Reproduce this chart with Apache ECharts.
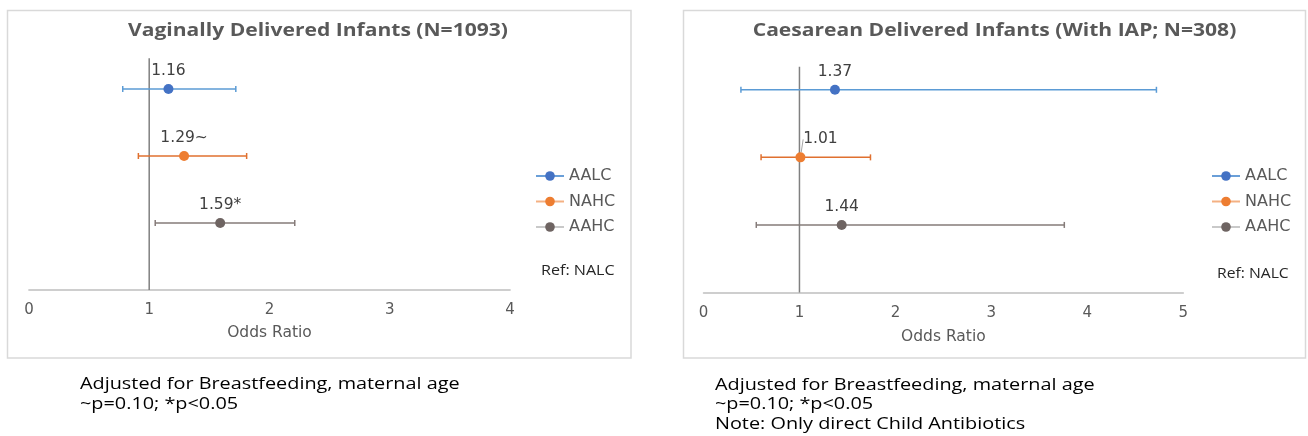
<!DOCTYPE html>
<html>
<head>
<meta charset="utf-8">
<script src="https://cdn.jsdelivr.net/npm/echarts@6/dist/echarts.min.js"></script>
<style>
  html, body { margin: 0; padding: 0; background: #fff; }
  #chart { width: 1308px; height: 436px; }
</style>
</head>
<body>
<div id="chart"></div>
<script>
// groups (top to bottom) and their row position on the hidden y axis
const groups = ["AALC", "NAHC", "AAHC"];
const rowY = [3, 2, 1];

// vaginally delivered infants
const leftOR = [1.16, 1.29, 1.59];
const leftLow = [0.78, 0.91, 1.05];
const leftHigh = [1.72, 1.81, 2.21];
const leftSig = ["", "~", "*"];
const leftTicks = [0, 1, 2, 3, 4];
const leftRefTop = 3.46;

// caesarean delivered infants
const rightOR = [1.37, 1.01, 1.44];
const rightLow = [0.39, 0.60, 0.55];
const rightHigh = [4.72, 1.74, 3.76];
const rightSig = ["", "", ""];
const rightTicks = [0, 1, 2, 3, 4, 5];
const rightRefTop = 3.34;

const markerColors = ["#4472C4", "#ED7D31", "#6E6462"];
const barColors = ["#5B9BD5", "#E0702F", "#857B79"];
const legendLineColors = ["#6A9FD8", "#F4B183", "#C9C9C9"];

const font = "'Open Sans', sans-serif";
const wide = "'DejaVu Sans', sans-serif";
const gray = "#595959";

var myChart = echarts.init(document.getElementById("chart"));

function xAxisFor(gridIndex, ticks, nameGap) {
  return {
    gridIndex: gridIndex,
    type: "value",
    min: ticks[0],
    max: ticks[ticks.length - 1],
    interval: 1,
    name: "Odds Ratio",
    nameLocation: "middle",
    nameGap: nameGap,
    nameTextStyle: { color: gray, fontSize: 15.5, fontFamily: wide },
    axisLine: { show: true, lineStyle: { color: "#BFBFBF", width: 1.5 } },
    axisTick: { show: false },
    splitLine: { show: false },
    axisLabel: { color: gray, fontSize: 15, fontFamily: wide, margin: 13 }
  };
}

function yAxisFor(gridIndex) {
  return { gridIndex: gridIndex, type: "value", min: 0, max: 3.5, show: false };
}

function panelSeries(axisIndex, or, low, high, sig, refTop, shiftIdx) {
  var list = [];
  // reference line at OR = 1
  list.push({
    type: "line",
    xAxisIndex: axisIndex,
    yAxisIndex: axisIndex,
    data: [[1, 0], [1, refTop]],
    symbol: "none",
    silent: true,
    lineStyle: { color: "#808080", width: 1.5 },
    z: 1
  });
  groups.forEach(function (g, i) {
    // error bars
    list.push({
      type: "custom",
      xAxisIndex: axisIndex,
      yAxisIndex: axisIndex,
      silent: true,
      z: 2,
      data: [[low[i], high[i], rowY[i]]],
      encode: { x: [0, 1], y: 2 },
      renderItem: function (params, api) {
        var a = api.coord([api.value(0), api.value(2)]);
        var b = api.coord([api.value(1), api.value(2)]);
        var s = { stroke: barColors[i], lineWidth: 1.5 };
        return {
          type: "group",
          children: [
            { type: "line", shape: { x1: a[0], y1: a[1], x2: b[0], y2: b[1] }, style: s },
            { type: "line", shape: { x1: a[0], y1: a[1] - 3, x2: a[0], y2: a[1] + 3 }, style: s },
            { type: "line", shape: { x1: b[0], y1: b[1] - 3, x2: b[0], y2: b[1] + 3 }, style: s }
          ]
        };
      }
    });
    // point estimate
    var shifted = i === shiftIdx;
    list.push({
      name: g,
      type: "line",
      xAxisIndex: axisIndex,
      yAxisIndex: axisIndex,
      data: [[or[i], rowY[i]]],
      symbol: "circle",
      symbolSize: 10,
      z: 3,
      itemStyle: { color: markerColors[i] },
      lineStyle: { color: legendLineColors[i], width: 1.5 },
      label: {
        show: true,
        position: "top",
        distance: 5,
        color: "#404040",
        fontSize: 15.5,
        fontFamily: wide,
        formatter: function () { return or[i].toFixed(2) + sig[i]; }
      },
      labelLayout: shifted ? { dx: 20, dy: 0 } : null,
      labelLine: shifted ? { show: true, lineStyle: { color: "#A6A6A6", width: 1 } } : { show: false }
    });
  });
  return list;
}

function legendFor(left) {
  return {
    orient: "vertical",
    left: left,
    top: 168,
    padding: 0,
    itemWidth: 28,
    itemHeight: 12,
    itemGap: 9.5,
    data: groups,
    textStyle: { color: gray, fontSize: 16, fontFamily: wide },
    selectedMode: false
  };
}

// static texts; the reference type is set wide, so it is stretched sideways
function text(x, y, str, style, sx) {
  return {
    type: "text",
    x: x,
    y: y,
    scaleX: sx || 1,
    silent: true,
    style: Object.assign({ text: str, fontFamily: font, fill: "#000", fontSize: 15,
      verticalAlign: "middle" }, style)
  };
}

var option = {
  animation: false,
  grid: [
    { left: 28.9, top: 55.5, width: 481.2, height: 234.5 },
    { left: 703.5, top: 56, width: 479.8, height: 236.5 }
  ],
  xAxis: [xAxisFor(0, leftTicks, 35), xAxisFor(1, rightTicks, 36)],
  yAxis: [yAxisFor(0), yAxisFor(1)],
  legend: [legendFor(535), legendFor(1211)],
  graphic: [
    { type: "rect", silent: true, shape: { x: 7.5, y: 10.5, width: 623.5, height: 347.5 },
      style: { fill: "none", stroke: "#D9D9D9", lineWidth: 1.5 } },
    { type: "rect", silent: true, shape: { x: 683.5, y: 10.5, width: 622, height: 347.5 },
      style: { fill: "none", stroke: "#D9D9D9", lineWidth: 1.5 } },
    text(318, 31, "Vaginally Delivered Infants (N=1093)",
      { fontSize: 18, fontWeight: "bold", fill: gray, align: "center" }, 1.17),
    text(994.5, 31, "Caesarean Delivered Infants (With IAP; N=308)",
      { fontSize: 18, fontWeight: "bold", fill: gray, align: "center" }, 1.17),
    text(541, 271, "Ref: NALC", { fontSize: 14, fill: "#262626" }, 1.15),
    text(1217, 274, "Ref: NALC", { fontSize: 14, fill: "#262626" }, 1.12),
    text(80, 384, "Adjusted for Breastfeeding, maternal age", { fontSize: 16 }, 1.24),
    text(80, 404, "~p=0.10; *p<0.05", { fontSize: 16 }, 1.24),
    text(715, 385, "Adjusted for Breastfeeding, maternal age", { fontSize: 16 }, 1.24),
    text(715, 404, "~p=0.10; *p<0.05", { fontSize: 16 }, 1.24),
    text(715, 424, "Note: Only direct Child Antibiotics", { fontSize: 16 }, 1.24)
  ],
  series: panelSeries(0, leftOR, leftLow, leftHigh, leftSig, leftRefTop, -1)
    .concat(panelSeries(1, rightOR, rightLow, rightHigh, rightSig, rightRefTop, 1))
};

myChart.setOption(option);
</script>
</body>
</html>
